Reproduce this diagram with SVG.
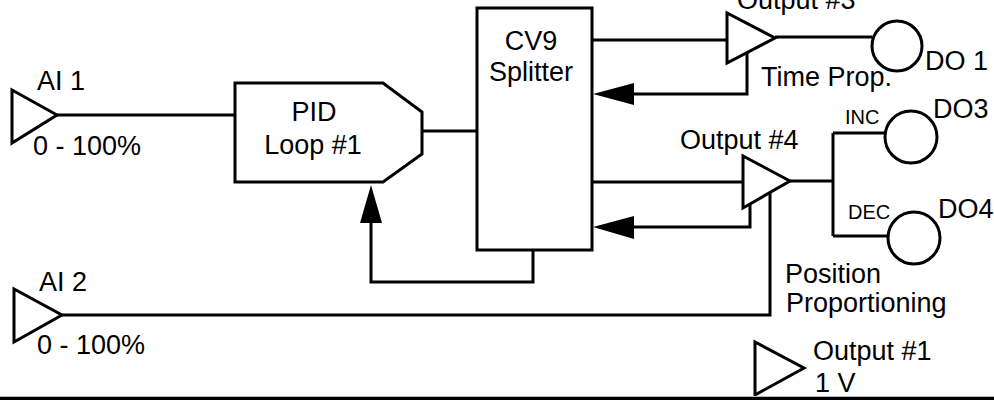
<svg xmlns="http://www.w3.org/2000/svg" width="994" height="400" viewBox="0 0 994 400">
<style>
  .shape { fill: #fff; stroke: #000; stroke-width: 3; stroke-linejoin: miter; }
  .wire { fill: none; stroke: #000; stroke-width: 3; }
  .head { fill: #000; stroke: none; }
  text { font-family: "Liberation Sans", Arial, sans-serif; font-size: 27px; fill: #000; }
  .small { font-size: 20px; }
  .mid { text-anchor: middle; }
</style>
<rect x="0" y="0" width="994" height="400" fill="#fff"/>
<g id="connectors">
  <polyline class="wire" points="57,115 235,115"/>
  <polyline class="wire" points="422,131 477,131"/>
  <polyline class="wire" points="592,40 727,40"/>
  <polyline class="wire" points="775,37 872,37"/>
  <polyline class="wire" points="747,53 747,94 632,94"/>
  <polygon class="head" points="593,94 634,83 634,105"/>
  <polyline class="wire" points="592,182 743,182"/>
  <polyline class="wire" points="790,181 833,181"/>
  <polyline class="wire" points="833,133 833,236"/>
  <polyline class="wire" points="833,133 885,133"/>
  <polyline class="wire" points="833,236 888,236"/>
  <polyline class="wire" points="750,202 750,227 632,227"/>
  <polygon class="head" points="593,227 634,216 634,239"/>
  <polyline class="wire" points="533,250 533,282 371,282 371,221"/>
  <polygon class="head" points="371,185 360,223 382,223"/>
  <polyline class="wire" points="62,315 770,315 770,193"/>
</g>
<g id="ai1">
  <polygon class="shape" points="12,90 12,143 57,115"/>
  <text x="37" y="90">AI 1</text>
  <text x="33" y="155">0 - 100%</text>
</g>
<g id="pid">
  <polygon class="shape" points="235,83 383,83 422,112 422,154 383,182 235,182"/>
  <text class="mid" x="314" y="121">PID</text>
  <text class="mid" x="313" y="154">Loop #1</text>
</g>
<g id="splitter">
  <rect class="shape" x="477" y="8" width="115" height="242"/>
  <text class="mid" x="531" y="50">CV9</text>
  <text class="mid" x="531" y="81">Splitter</text>
</g>
<g id="output3">
  <polygon class="shape" points="727,13 727,63 775,38"/>
  <text x="737" y="9">Output #3</text>
  <text x="761" y="86">Time Prop.</text>
</g>
<g id="do1">
  <circle class="shape" cx="897" cy="46" r="25" stroke-width="2.5"/>
  <text x="925" y="70">DO 1</text>
</g>
<g id="output4">
  <polygon class="shape" points="743,156 743,208 790,181"/>
  <text x="680" y="149">Output #4</text>
  <text x="785" y="283">Position</text>
  <text x="786" y="312">Proportioning</text>
</g>
<g id="do3">
  <circle class="shape" cx="911" cy="137" r="26" stroke-width="2.5"/>
  <text class="small" x="845" y="124">INC</text>
  <text x="933" y="118">DO3</text>
</g>
<g id="do4">
  <circle class="shape" cx="914" cy="238" r="26" stroke-width="2.5"/>
  <text class="small" x="848" y="219">DEC</text>
  <text x="938" y="218">DO4</text>
</g>
<g id="ai2">
  <polygon class="shape" points="14,289 14,342 62,315"/>
  <text x="39" y="291">AI 2</text>
  <text x="37" y="354">0 - 100%</text>
</g>
<g id="output1">
  <polygon class="shape" points="755,342 755,395 804,368"/>
  <text x="813" y="360">Output #1</text>
  <text x="815" y="392">1 V</text>
</g>
<rect x="0" y="396" width="994" height="1" fill="#bbb"/>
<rect x="0" y="397" width="994" height="3" fill="#000"/>
</svg>
